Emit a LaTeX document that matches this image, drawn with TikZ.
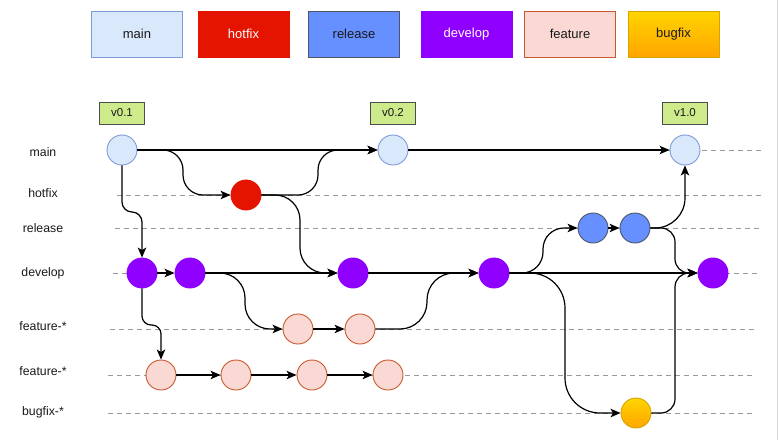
\documentclass[tikz,border=0pt]{standalone}
\usepackage{fontspec}
\setmainfont{Liberation Sans}
\usetikzlibrary{arrows.meta}

\definecolor{mainfill}{HTML}{DAE8FC}
\definecolor{mainline}{HTML}{7C9BD8}
\definecolor{hotfill}{HTML}{E51400}
\definecolor{relfill}{HTML}{6690FF}
\definecolor{relline}{HTML}{4D5566}
\definecolor{devfill}{HTML}{8F00FF}
\definecolor{featfill}{HTML}{FAD9D5}
\definecolor{featline}{HTML}{C8582E}
\definecolor{bugtop}{HTML}{FFD500}
\definecolor{bugbot}{HTML}{FFA500}
\definecolor{bugline}{HTML}{D7A400}
\definecolor{tagfill}{HTML}{CDEB8B}
\definecolor{tagline}{HTML}{4A4D50}
\definecolor{lanecol}{HTML}{9A9A9A}
\definecolor{inkdark}{HTML}{1A1A1A}

\tikzset{
  legendbox/.style={rectangle, minimum width=91pt, minimum height=46pt, inner sep=0pt,
    line width=0.9pt, font=\fontsize{13}{15}\selectfont, text=inkdark},
  rowlabel/.style={font=\fontsize{12.3}{14}\selectfont, text=inkdark, inner sep=0pt},
  tagbox/.style={rectangle, fill=tagfill, draw=tagline, line width=0.9pt,
    minimum width=45pt, minimum height=22pt, inner sep=0pt,
    font=\fontsize{11.5}{13}\selectfont, text=inkdark},
  commit/.style={circle, minimum size=30pt, inner sep=0pt, line width=0.9pt},
  cmain/.style={commit, fill=mainfill, draw=mainline},
  chot/.style={commit, fill=hotfill, draw=hotfill},
  crel/.style={commit, fill=relfill, draw=relline},
  cdev/.style={commit, fill=devfill, draw=devfill},
  cfeat/.style={commit, fill=featfill, draw=featline},
  cbug/.style={commit, top color=bugtop, bottom color=bugbot, draw=bugline},
  lane/.style={draw=lanecol, line width=1pt, dash pattern=on 5pt off 4pt},
  flow/.style={draw=black, line width=1.2pt,
    -{Stealth[length=10pt, width=8.5pt, inset=2.5pt]}},
}

\begin{document}
\begin{tikzpicture}[x=1pt, y=-1pt]
\useasboundingbox (0,0) rectangle (779,440);
\fill[white] (0,0) rectangle (779,440);
\draw[black!14, line width=1.6pt] (777.5,0) -- (777.5,440);

% legend
\node[legendbox, fill=mainfill, draw=mainline] (lgmain) at (137,34) {main};
\node[legendbox, fill=hotfill, draw=hotfill, text=white] (lghot) at (243.5,34) {hotfix};
\node[legendbox, fill=relfill, draw=relline] (lgrel) at (354,34) {release};
\node[legendbox, fill=devfill, draw=devfill, text=white] (lgdev) at (466.5,34) {develop};
\node[legendbox, fill=featfill, draw=featline] (lgfeat) at (570,34) {feature};
\node[legendbox, top color=bugtop, bottom color=bugbot, draw=bugline] (lgbug) at (673.5,34) {bugfix};

% branch names
\node[rowlabel] (lmain) at (43,152) {main};
\node[rowlabel] (lhot)  at (43,193) {hotfix};
\node[rowlabel] (lrel)  at (43,228) {release};
\node[rowlabel] (ldev)  at (43,273) {develop};
\node[rowlabel] (lfa)   at (43,326) {feature-*};
\node[rowlabel] (lfb)   at (43,371) {feature-*};
\node[rowlabel] (lbug)  at (43,412) {bugfix-*};

% lanes
\draw[lane] (117,150) -- (764,150);
\draw[lane] (117,195) -- (762,195);
\draw[lane] (115,228) -- (760,228);
\draw[lane] (113,273) -- (758,273);
\draw[lane] (110,329) -- (755,329);
\draw[lane] (108,375) -- (753,375);
\draw[lane] (108,413) -- (753,413);

% commits
\node[cmain] (m1) at (122,150) {};
\node[cmain] (m2) at (393,150) {};
\node[cmain] (m3) at (685,150) {};
\node[chot]  (h1) at (246,195) {};
\node[crel]  (r1) at (593,228) {};
\node[crel]  (r2) at (635,228) {};
\node[cdev]  (d1) at (142,273) {};
\node[cdev]  (d2) at (190,273) {};
\node[cdev]  (d3) at (353,273) {};
\node[cdev]  (d4) at (494,273) {};
\node[cdev]  (d5) at (713,273) {};
\node[cfeat] (fa1) at (298,329) {};
\node[cfeat] (fa2) at (360,329) {};
\node[cfeat] (fb1) at (161,375) {};
\node[cfeat] (fb2) at (236,375) {};
\node[cfeat] (fb3) at (312,375) {};
\node[cfeat] (fb4) at (388,375) {};
\node[cbug]  (b1) at (636,413) {};

% tags
\node[tagbox] (t1) at (122,113) {v0.1};
\node[tagbox] (t2) at (393,113) {v0.2};
\node[tagbox] (t3) at (685,113) {v1.0};

% turning columns and rows of the bent connectors
\coordinate (xa) at (183,0);
\coordinate (xb) at (318,0);
\coordinate (xc) at (300,0);
\coordinate (xd) at (245,0);
\coordinate (xe) at (427,0);
\coordinate (xf) at (543,0);
\coordinate (xg) at (675,0);
\coordinate (xh) at (565,0);
\coordinate (ya) at (0,212);
\coordinate (yb) at (0,325);

% straight connectors
\draw[flow] (m1.east) -- (m2.west);
\draw[flow] (m2.east) -- (m3.west);
\draw[flow] (d1.east) -- (d2.west);
\draw[flow] (d2.east) -- (d3.west);
\draw[flow] (d3.east) -- (d4.west);
\draw[flow] (d4.east) -- (d5.west);
\draw[flow] (fa1.east) -- (fa2.west);
\draw[flow] (fb1.east) -- (fb2.west);
\draw[flow] (fb2.east) -- (fb3.west);
\draw[flow] (fb3.east) -- (fb4.west);
\draw[flow] (r1.east) -- (r2.west);

% bent connectors
\draw[flow, rounded corners=20pt] (m1.east) -- (m1.east -| xa) -- (xa |- h1.west) -- (h1.west);
\draw[flow, rounded corners=20pt] (h1.east) -- (h1.east -| xb) -- (xb |- m2.west) -- (m2.west);
\draw[flow, rounded corners=25pt] (h1.east) -- (h1.east -| xc) -- (xc |- d3.west) -- (d3.west);
\draw[flow, rounded corners=10pt] (m1.south) -- (m1.south |- ya) -- (d1.north |- ya) -- (d1.north);
\draw[flow, rounded corners=9pt] (d1.south) -- (d1.south |- yb) -- (fb1.north |- yb) -- (fb1.north);
\draw[flow, rounded corners=25pt] (d2.east) -- (d2.east -| xd) -- (xd |- fa1.west) -- (fa1.west);
\draw[flow, rounded corners=27pt] (fa2.east) -- (fa2.east -| xe) -- (xe |- d4.west) -- (d4.west);
\draw[flow, rounded corners=21pt] (d4.east) -- (d4.east -| xf) -- (xf |- r1.west) -- (r1.west);
\draw[flow, rounded corners=30pt] (r2.east) -- (r2.east -| m3.south) -- (m3.south);
\draw[flow, rounded corners=14pt] (r2.east) -- (r2.east -| xg) -- (xg |- d5.west) -- (d5.west);
\draw[flow, rounded corners=35pt] (d4.east) -- (d4.east -| xh) -- (xh |- b1.west) -- (b1.west);
\draw[flow, rounded corners=14pt] (b1.east) -- (b1.east -| xg) -- (xg |- d5.west) -- (d5.west);
\end{tikzpicture}
\end{document}
